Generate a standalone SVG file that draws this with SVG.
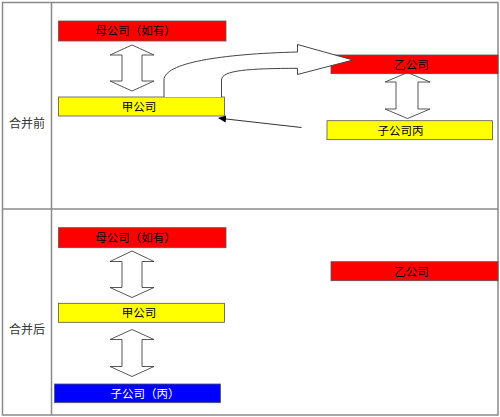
<svg xmlns="http://www.w3.org/2000/svg" width="500" height="417" viewBox="0 0 500 417">
<style>
.grid{fill:none;stroke:#8a8a8a;stroke-width:1.5}
.box{stroke:#555;stroke-width:0.8}
.red{fill:#ff0000}
.yel{fill:#ffff00}
.blu{fill:#0000ff}
.t{font-family:"Liberation Sans","Noto Sans CJK SC",sans-serif;font-size:11.5px;text-anchor:middle;fill:#000}
.w{fill:#fff}
.lbl{font-family:"Liberation Sans","Noto Sans CJK SC",sans-serif;font-size:12px;text-anchor:middle;fill:#333}
.dbl{fill:#fff;stroke:#444;stroke-width:0.9}
.blk{fill:#fff;stroke:#444;stroke-width:1}
.ln{fill:none;stroke:#333;stroke-width:1}
</style>
<defs>
<marker id="ah" markerWidth="8" markerHeight="8" refX="7" refY="4" orient="auto" markerUnits="userSpaceOnUse">
<path d="M0,0.5 L8,4 L0,7.5 Z" fill="#000"/>
</marker>
</defs>
<rect x="0" y="0" width="500" height="417" fill="#fff"/>
<g id="table">
<rect class="grid" x="2.5" y="2.5" width="495.5" height="412.5"/>
<line class="grid" x1="51.5" y1="2.5" x2="51.5" y2="415"/>
<line class="grid" x1="2.5" y1="209" x2="498" y2="209"/>
<text class="lbl" x="27" y="127.5">合并前</text>
<text class="lbl" x="27" y="334">合并后</text>
</g>
<g id="connectors">
<path class="dbl" d="M132,45 L154,55 L142,55 L142,81 L154,81 L132,91 L110,81 L122,81 L122,55 L110,55 Z"/>
<path class="dbl" d="M407.5,72.5 L430,82 L418,82 L418,109 L430,109 L407.5,118.5 L385,109 L396,109 L396,82 L385,82 Z"/>
<path class="dbl" d="M132,251 L154,261.5 L142,261.5 L142,287.5 L154,287.5 L132,297.5 L110,287.5 L122,287.5 L122,261.5 L110,261.5 Z"/>
<path class="dbl" d="M132,329.5 L154,339.5 L142,339.5 L142,366.5 L154,366.5 L132,376.5 L110,366.5 L122,366.5 L122,339.5 L110,339.5 Z"/>
<line class="ln" x1="301.5" y1="127.5" x2="219" y2="118.2" marker-end="url(#ah)"/>
</g>
<g id="n-parent-before">
<rect class="box red" x="58.5" y="21" width="167.5" height="20"/>
<text class="t" x="135.5" y="35">母公司（如有）</text>
</g>
<g id="n-jia-before">
<rect class="box yel" x="58.5" y="97" width="166" height="19"/>
<text class="t" x="139" y="110.5">甲公司</text>
</g>
<g id="n-yi-before">
<rect class="box red" x="331" y="55" width="167" height="18.7"/>
<text class="t" x="411.5" y="68.5">乙公司</text>
</g>
<g id="n-bing-before">
<rect class="box yel" x="327" y="120.7" width="165.5" height="19"/>
<text class="t" x="400.5" y="134.5">子公司丙</text>
</g>
<g id="curved-arrow">
<path class="blk" d="M164,97 L164,80 C164,63 220,54 297.5,52 L297.5,44.5 L353,60 L297.5,74.5 L297.5,68.3 C250,68.5 221.5,70 221.5,80 L221.5,97"/>
</g>
<g id="n-parent-after">
<rect class="box red" x="58.5" y="227.7" width="167.5" height="20"/>
<text class="t" x="135.5" y="241.5">母公司（如有）</text>
</g>
<g id="n-jia-after">
<rect class="box yel" x="58.5" y="303.3" width="166" height="19"/>
<text class="t" x="139" y="317">甲公司</text>
</g>
<g id="n-bing-after">
<rect class="box blu" x="54.5" y="384" width="166" height="18.7"/>
<text class="t w" x="145" y="397.5">子公司（丙）</text>
</g>
<g id="n-yi-after">
<rect class="box red" x="331" y="261.7" width="167" height="19"/>
<text class="t" x="411.5" y="275.5">乙公司</text>
</g>
</svg>
